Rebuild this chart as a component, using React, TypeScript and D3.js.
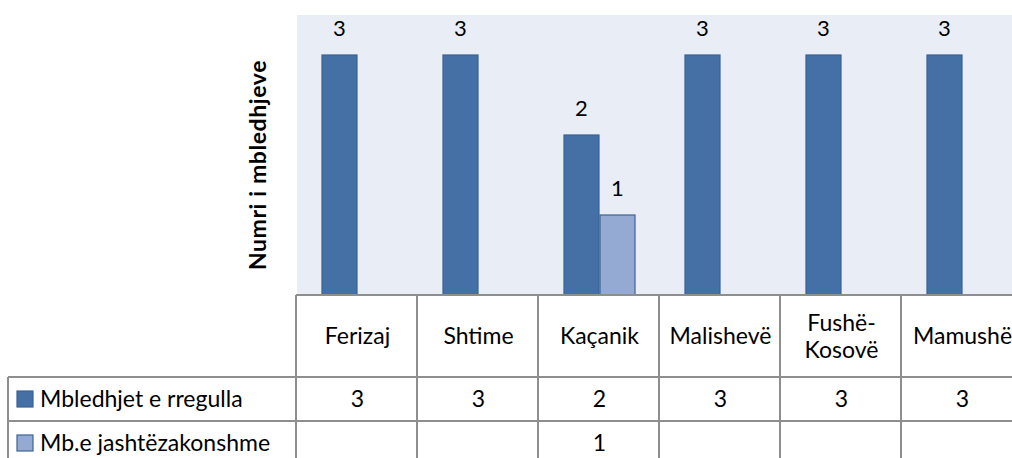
import * as d3 from 'd3';

const categories = ['Ferizaj', 'Shtime', 'Kaçanik', 'Malishevë', 'Fushë-Kosovë', 'Mamushë'];
const categoryLines = [['Ferizaj'], ['Shtime'], ['Kaçanik'], ['Malishevë'], ['Fushë-', 'Kosovë'], ['Mamushë']];
const seriesNames = ['Mbledhjet e rregulla', 'Mb.e jashtëzakonshme'];
const regular = [3, 3, 2, 3, 3, 3];
const extraordinary = [null, null, 1, null, null, null];
const seriesFill = ['#4470a6', '#95aad3'];
const seriesStroke = ['#3a6192', '#3d6494'];

const FONT = 'Lato, "Open Sans", sans-serif';

export default function App() {
  const width = 1012;
  const height = 458;
  const plot = { left: 297, right: 1023, top: 15, bottom: 295 };
  const rowTops = [295, 377, 421, 465];
  const legendLeft = 8;

  const x = d3.scaleBand<string>().domain(categories).range([plot.left, plot.right]).paddingInner(0).paddingOuter(0);
  const xSub = d3.scaleBand<string>().domain(seriesNames).range([0, x.bandwidth()]).paddingInner(0).paddingOuter(0.68);
  const y = d3.scaleLinear().domain([0, 3.5]).range([plot.bottom, plot.top]);

  const series = [regular, extraordinary];
  const gridColor = '#8e8e8e';
  const fs = 23;

  return (
    <svg width={width} height={height} style={{ position: 'absolute', left: 0, top: 0, background: '#fff' }} fontFamily={FONT}>
      <rect x={plot.left} y={plot.top} width={plot.right - plot.left} height={plot.bottom - plot.top} fill="#e9edf5" />

      {series.map((vals, si) =>
        vals.map((v, ci) => {
          if (v == null) return null;
          const bx = (x(categories[ci]) as number) + (xSub(seriesNames[si]) as number);
          const bw = xSub.bandwidth();
          return (
            <g key={`${si}-${ci}`}>
              <rect x={bx + 0.5} y={y(v)} width={bw - 1} height={y(0) - y(v)} fill={seriesFill[si]} stroke={seriesStroke[si]} strokeWidth={1.2} />
              <text x={bx + bw / 2} y={y(v) - 19} textAnchor="middle" fontSize={22} fill="#000">{v}</text>
            </g>
          );
        })
      )}

      <text transform={`translate(266,${(plot.top + plot.bottom) / 2 + 10}) rotate(-90)`} textAnchor="middle" fontSize={23} fontWeight="bold" letterSpacing={0.6} fill="#000">
        Numri i mbledhjeve
      </text>

      {/* data table */}
      <line x1={plot.left - 1} x2={width} y1={plot.bottom} y2={plot.bottom} stroke={gridColor} strokeWidth={2} />
      {rowTops.slice(1, 3).map((ry) => (
        <line key={ry} x1={legendLeft} x2={width} y1={ry} y2={ry} stroke={gridColor} strokeWidth={2} />
      ))}
      <line x1={legendLeft} x2={legendLeft} y1={rowTops[1]} y2={height} stroke={gridColor} strokeWidth={2} />
      {categories.map((c) => (
        <line key={c} x1={(x(c) as number) - 1} x2={(x(c) as number) - 1} y1={plot.bottom} y2={height} stroke={gridColor} strokeWidth={2} />
      ))}
      <line x1={plot.right - 1} x2={plot.right - 1} y1={plot.bottom} y2={height} stroke={gridColor} strokeWidth={2} />

      {categories.map((c, ci) => {
        const cx = (x(c) as number) + x.bandwidth() / 2;
        const lines = categoryLines[ci];
        const mid = (rowTops[0] + rowTops[1]) / 2;
        return lines.map((ln, li) => (
          <text key={`${c}-${li}`} x={cx} y={mid + 8 + (li - (lines.length - 1) / 2) * 27} textAnchor="middle" fontSize={fs} fill="#000">
            {ln}
          </text>
        ));
      })}

      {series.map((vals, si) => {
        const mid = (rowTops[si + 1] + rowTops[si + 2]) / 2;
        return (
          <g key={si}>
            <rect x={17} y={mid - 8} width={16} height={16} fill={seriesFill[si]} stroke={seriesStroke[si]} strokeWidth={1.2} />
            <text x={40} y={mid + 8} fontSize={fs} fill="#000">{seriesNames[si]}</text>
            {vals.map((v, ci) =>
              v == null ? null : (
                <text key={ci} x={(x(categories[ci]) as number) + x.bandwidth() / 2} y={mid + 8} textAnchor="middle" fontSize={fs} fill="#000">
                  {v}
                </text>
              )
            )}
          </g>
        );
      })}
    </svg>
  );
}
